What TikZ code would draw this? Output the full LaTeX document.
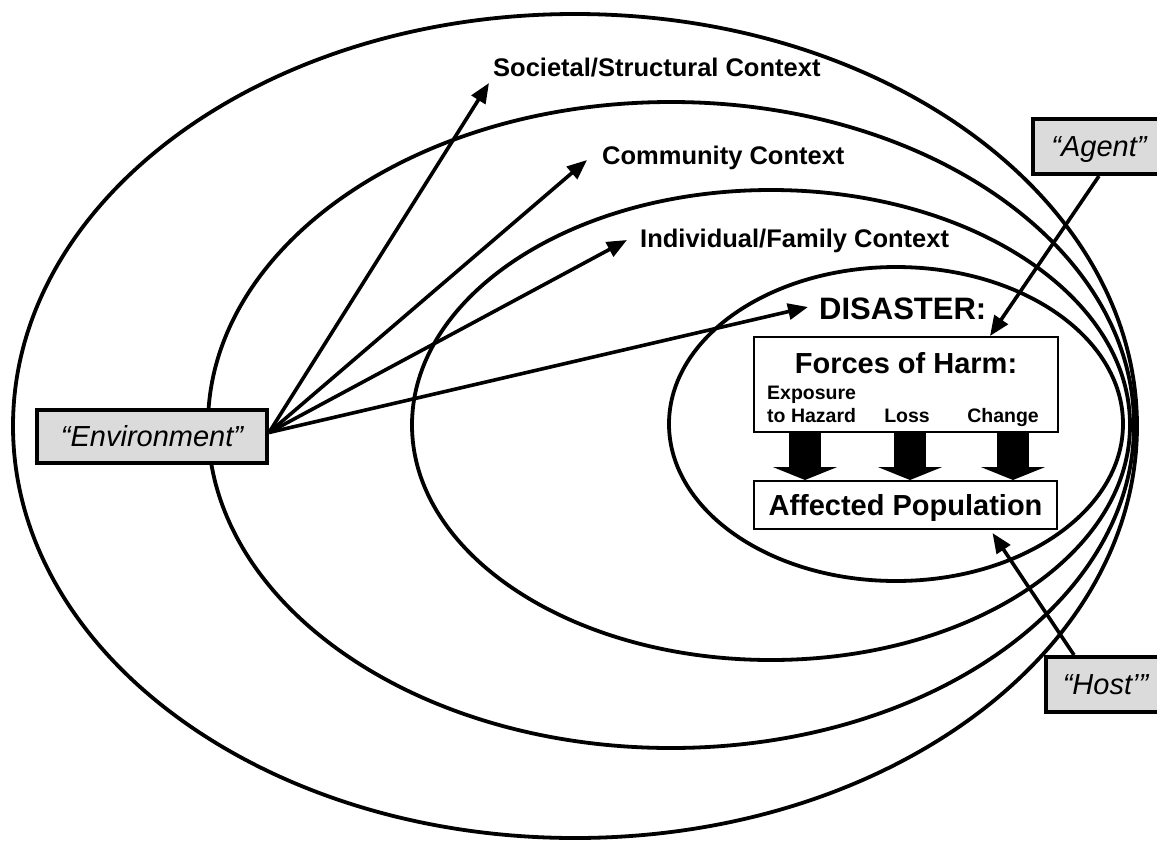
\documentclass[tikz,border=0pt]{standalone}
\usepackage{fontspec}
\setmainfont{Liberation Sans}
\usetikzlibrary{arrows.meta}
\begin{document}
\begin{tikzpicture}[x=1pt,y=-1pt,
  ring/.style={line width=3.8pt},
  conn/.style={line width=3.6pt,-{Triangle[length=20pt,width=16pt]}},
  blockarrow/.style={line width=32pt,-{Triangle[length=13pt,width=64pt]}},
  tag/.style={draw,line width=4pt,fill=black!14,inner sep=0pt,
    font=\fontsize{29}{32}\selectfont\itshape,text height=20pt,text depth=0pt},
  ctx/.style={inner sep=0pt,anchor=base west,font=\fontsize{25.5}{28}\selectfont\bfseries},
  smalllab/.style={inner sep=0pt,font=\fontsize{19.5}{22}\selectfont\bfseries},
  whitebox/.style={draw,line width=2pt,fill=white,inner sep=0pt}]
\useasboundingbox (0,0) rectangle (1157,844);
\clip (0,0) rectangle (1157,844);
\fill[white] (0,0) rectangle (1157,844);
% context ellipses
\draw[ring] (575,426) ellipse [x radius=562pt, y radius=412pt];
\draw[ring] (671,425) ellipse [x radius=463pt, y radius=323pt];
\draw[ring] (771,425) ellipse [x radius=359pt, y radius=235pt];
\draw[ring] (896,424) ellipse [x radius=227pt, y radius=157pt];
% labels
\node[ctx] (soc) at (493,76) {Societal/Structural Context};
\node[ctx] (com) at (602,164) {Community Context};
\node[ctx] (ind) at (640,247) {Individual/Family Context};
\node[inner sep=0pt,anchor=base west,font=\fontsize{31}{36}\selectfont\bfseries] (dis) at (819,319.5) {DISASTER:};
% forces / affected boxes
\node[whitebox,minimum width=304pt,minimum height=95pt] (forces) at (906,384.5) {};
\node[inner sep=0pt,anchor=base,font=\fontsize{29}{32}\selectfont\bfseries] (foh) at (906,373.5) {Forces of Harm:};
\node[smalllab,anchor=base west] (exp1) at (767,399) {Exposure};
\node[smalllab,anchor=base west] (exp2) at (767,422) {to Hazard};
\node[smalllab,anchor=base] (loss) at (907,422) {Loss};
\node[smalllab,anchor=base] (chg) at (1003,422) {Change};
\node[whitebox,minimum width=303pt,minimum height=48pt,
  font=\fontsize{29}{32}\selectfont\bfseries,text height=21pt,text depth=0pt] (affected) at (905.5,505) {Affected Population};
% block arrows
\foreach \dx in {52,157,260}
  \draw[blockarrow] ([xshift=\dx pt]forces.south west) -- ([xshift=\dx pt]affected.north west);
% tags
\node[tag,minimum width=230pt,minimum height=53pt] (env) at (152,436.5) {“Environment”};
\node[tag,minimum width=132pt,minimum height=55pt] (agent) at (1099,146.5) {“Agent”};
\node[tag,minimum width=119pt,minimum height=55pt] (host) at (1105.5,684.5) {“Host’”};
% arrow targets
\coordinate (tsoc) at (489,83);
\coordinate (tcom) at (587,160);
\coordinate (tind) at (627,240);
\coordinate (tdis) at (808,307);
\coordinate (envout) at ([yshift=4pt]env.east);
\draw[conn] (envout) -- (tsoc);
\draw[conn] (envout) -- (tcom);
\draw[conn] (envout) -- (tind);
\draw[conn] (envout) -- (tdis);
\draw[conn] (agent.south) -- ([xshift=84pt]forces.north);
\draw[conn] ([xshift=30pt]host.north west) -- ([xshift=87pt,yshift=-3pt]affected.south);
\end{tikzpicture}
\end{document}
